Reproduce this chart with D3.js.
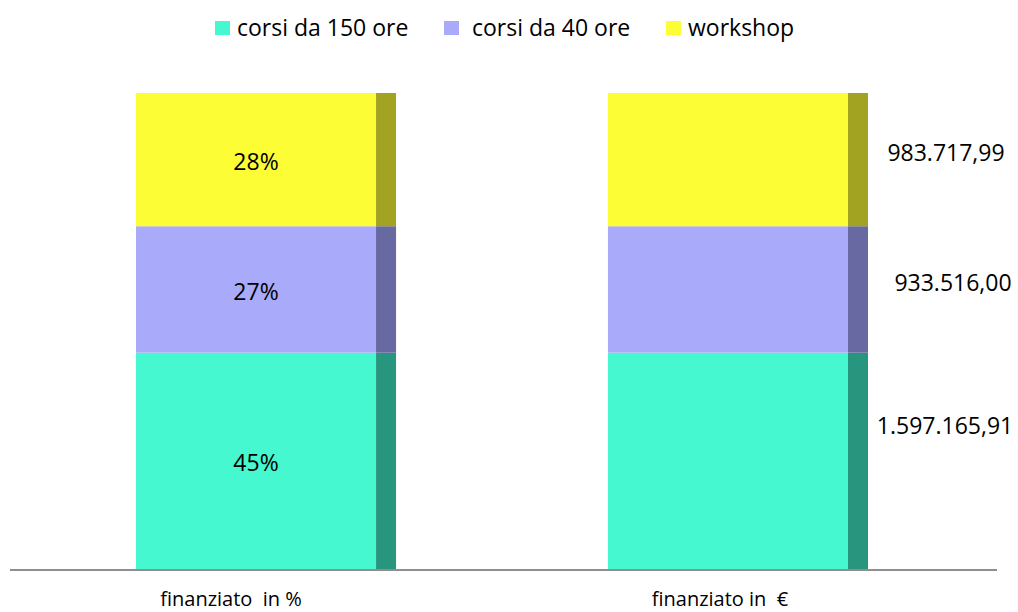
<!DOCTYPE html>
<html>
<head>
<meta charset="utf-8">
<script src="https://cdn.jsdelivr.net/npm/d3@7"></script>
<style>
  body { margin: 0; background: #fff; }
  text { font-family: "Open Sans", sans-serif; fill: #000; }
</style>
</head>
<body>
<div id="chart"></div>
<script>
var width = 1018;
var height = 612;
var depth = 20;

var categories = ['finanziato  in %', 'finanziato in  €'];
var series = ['corsi da 150 ore', 'corsi da 40 ore', 'workshop'];
var values = [1597165.91, 933516.00, 983717.99];
var frontColors = ['#45F8D0', '#AAAAFB', '#FDFD35'];
var sideColors = ['#28967E', '#6868A2', '#A3A322'];
// small nudges of the euro labels, as placed in the original
var euroDx = [77, 85, 78];
var euroDy = [-35, -7, -7];

var itLocale = d3.formatLocale({ decimal: ',', thousands: '.', grouping: [3], currency: ['', ' €'] });
var euro = itLocale.format(',.2f');
var pct = d3.format('.0%');

var total = d3.sum(values);
var rows = categories.map(function(c) {
  var row = { cat: c };
  series.forEach(function(s, i) { row[s] = values[i] / total; });
  return row;
});
var stacked = d3.stack().keys(series)(rows);

var svg = d3.select('#chart')
  .append('svg')
  .attr('width', width)
  .attr('height', height);

var x = d3.scaleBand()
  .domain(categories)
  .range([18, 986])
  .paddingInner(0.449)
  .paddingOuter(0.25);

var y = d3.scaleLinear()
  .domain([0, 1])
  .range([569, 93]);

var frontW = x.bandwidth() - depth;

var layers = svg.selectAll('g.layer')
  .data(stacked)
  .enter().append('g')
  .attr('class', 'layer');

layers.selectAll('rect.front')
  .data(function(d) { return d.map(function(p) { return { p: p, i: d.index }; }); })
  .enter().append('rect')
  .attr('class', 'front')
  .attr('x', function(d) { return x(d.p.data.cat); })
  .attr('y', function(d) { return y(d.p[1]); })
  .attr('width', frontW)
  .attr('height', function(d) { return y(d.p[0]) - y(d.p[1]); })
  .style('fill', function(d) { return frontColors[d.i]; });

layers.selectAll('rect.side')
  .data(function(d) { return d.map(function(p) { return { p: p, i: d.index }; }); })
  .enter().append('rect')
  .attr('class', 'side')
  .attr('x', function(d) { return x(d.p.data.cat) + frontW; })
  .attr('y', function(d) { return y(d.p[1]); })
  .attr('width', depth)
  .attr('height', function(d) { return y(d.p[0]) - y(d.p[1]); })
  .style('fill', function(d) { return sideColors[d.i]; });

// percent labels inside the first bar
svg.selectAll('text.pct')
  .data(stacked)
  .enter().append('text')
  .attr('class', 'pct')
  .attr('x', x(categories[0]) + frontW / 2)
  .attr('y', function(d) { return (y(d[0][0]) + y(d[0][1])) / 2 + 2; })
  .attr('dy', '0.35em')
  .attr('text-anchor', 'middle')
  .style('font-size', '23px')
  .text(function(d) { return pct(d[0][1] - d[0][0]); });

// euro values next to the second bar
svg.selectAll('text.euro')
  .data(stacked)
  .enter().append('text')
  .attr('class', 'euro')
  .attr('x', function(d, i) { return x(categories[1]) + x.bandwidth() + euroDx[i]; })
  .attr('y', function(d, i) { return (y(d[1][0]) + y(d[1][1])) / 2 + euroDy[i]; })
  .attr('dy', '0.35em')
  .attr('text-anchor', 'middle')
  .style('font-size', '23px')
  .text(function(d, i) { return euro(values[i]); });

// baseline
svg.append('line')
  .attr('x1', 10)
  .attr('x2', 997)
  .attr('y1', y(0) + 1)
  .attr('y2', y(0) + 1)
  .style('stroke', '#8E8E8E')
  .style('stroke-width', 2);

// category labels
svg.selectAll('text.cat')
  .data(categories)
  .enter().append('text')
  .attr('class', 'cat')
  .attr('x', function(d, i) { return x(d) + frontW / 2 + (i === 0 ? -25 : -8); })
  .attr('y', 599)
  .attr('dy', '0.35em')
  .attr('text-anchor', 'middle')
  .style('font-size', '20px')
  .style('white-space', 'pre')
  .text(function(d) { return d; });

// legend
var legendX = [215, 444, 666];
var legend = svg.selectAll('g.legend')
  .data(series)
  .enter().append('g')
  .attr('class', 'legend')
  .attr('transform', function(d, i) { return 'translate(' + legendX[i] + ',27)'; });

legend.append('rect')
  .attr('x', 0)
  .attr('y', -6)
  .attr('width', 15)
  .attr('height', 14)
  .style('fill', function(d, i) { return frontColors[i]; });

legend.append('text')
  .attr('x', function(d, i) { return i === 1 ? 28 : 22; })
  .attr('y', 1)
  .attr('dy', '0.35em')
  .style('font-size', '23px')
  .text(function(d) { return d; });
</script>
</body>
</html>
